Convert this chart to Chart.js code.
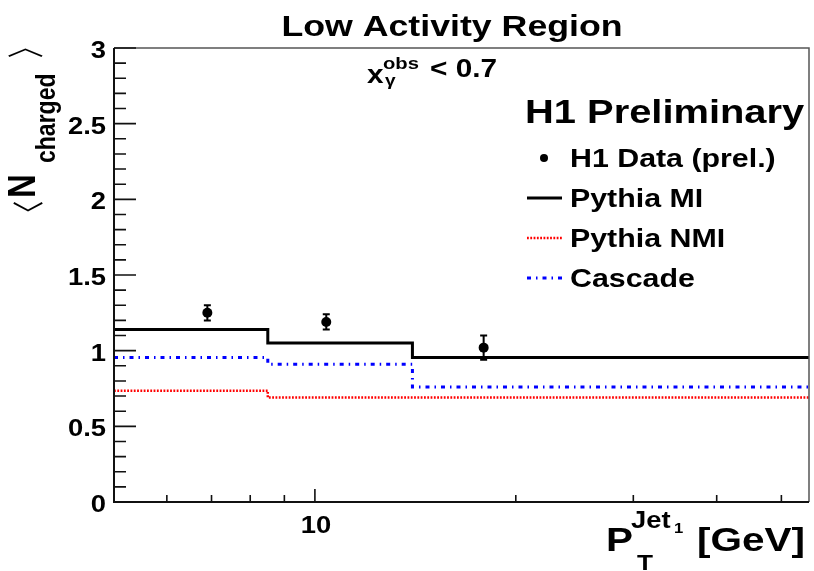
<!DOCTYPE html>
<html>
<head>
<meta charset="utf-8">
<script src="https://cdn.jsdelivr.net/npm/chart.js@4.4.1/dist/chart.umd.min.js"></script>
<style>
  html, body { margin: 0; padding: 0; background: #fff; }
  #wrap { width: 814px; height: 571px; }
</style>
</head>
<body>
<div id="wrap"><canvas id="c" width="814" height="571"></canvas></div>
<script>
// bins in pT (GeV), log x axis
const binEdges = [5, 8.5, 14, 55];
const dataPt = [6.9, 10.4, 17.9];
const dataVal = [1.25, 1.19, 1.02];
const dataErr = [0.05, 0.05, 0.08];
const pythiaMI = [1.14, 1.05, 0.955];
const pythiaNMI = [0.735, 0.69, 0.69];
const cascade = [0.955, 0.91, 0.76];

const yMajor = [0, 0.5, 1, 1.5, 2, 2.5, 3];
const yLabels = ['0', '0.5', '1', '1.5', '2', '2.5', '3'];
const yMinor = [0.1, 0.2, 0.3, 0.4, 0.6, 0.7, 0.8, 0.9, 1.1, 1.2, 1.3, 1.4, 1.6, 1.7, 1.8, 1.9, 2.1, 2.2, 2.3, 2.4, 2.6, 2.7, 2.8, 2.9];
const xMajor = [10];
const xLabels = ['10'];
const xMinor = [6, 7, 8, 9, 20, 30, 40, 50];

const SX = 1.19; // text in the picture is a bit wide
const FONT = '"Liberation Sans", Arial, Helvetica, sans-serif';

function stepPoints(vals) {
  return binEdges.map((e, i) => ({ x: e, y: vals[Math.min(i, vals.length - 1)] }));
}

function txt(ctx, s, x, y, size, align) {
  ctx.save();
  ctx.font = 'bold ' + size + 'px ' + FONT;
  ctx.fillStyle = '#000';
  ctx.textBaseline = 'alphabetic';
  ctx.translate(x, y);
  ctx.scale(SX, 1);
  const w = ctx.measureText(s).width;
  let dx = 0;
  if (align === 'center') dx = -w / 2;
  if (align === 'right') dx = -w;
  ctx.fillText(s, dx, 0);
  ctx.restore();
  return w * SX;
}

// rotated text, reading bottom to top; bx = baseline x, y0 = screen y where text starts
function rtxt(ctx, s, bx, y0, size) {
  ctx.save();
  ctx.font = 'bold ' + size + 'px ' + FONT;
  ctx.fillStyle = '#000';
  ctx.textBaseline = 'alphabetic';
  ctx.translate(bx, y0);
  ctx.rotate(-Math.PI / 2);
  ctx.scale(1, SX);
  ctx.fillText(s, 0, 0);
  ctx.restore();
}

// glyph squeezed into a box (for the wide angle brackets)
function boxGlyph(ctx, s, font, x0, y0, x1, y1) {
  ctx.save();
  ctx.font = font;
  ctx.fillStyle = '#000';
  ctx.textBaseline = 'alphabetic';
  ctx.textAlign = 'left';
  const m = ctx.measureText(s);
  const gw = m.actualBoundingBoxLeft + m.actualBoundingBoxRight;
  const gh = m.actualBoundingBoxAscent + m.actualBoundingBoxDescent;
  ctx.translate(x0, y0);
  ctx.scale((x1 - x0) / gw, (y1 - y0) / gh);
  ctx.fillText(s, m.actualBoundingBoxLeft, m.actualBoundingBoxAscent);
  ctx.restore();
}

const rootPlugin = {
  id: 'rootStyle',
  afterDatasetsDraw(chart) {
    const ctx = chart.ctx;
    const xs = chart.scales.x, ys = chart.scales.y;
    // error bars on the data points
    ctx.save();
    ctx.strokeStyle = '#000';
    ctx.lineWidth = 2;
    dataPt.forEach((pt, i) => {
      const px = xs.getPixelForValue(pt);
      const top = ys.getPixelForValue(dataVal[i] + dataErr[i]);
      const bot = ys.getPixelForValue(dataVal[i] - dataErr[i]);
      ctx.beginPath();
      ctx.moveTo(px, top); ctx.lineTo(px, bot);
      ctx.moveTo(px - 3.5, top); ctx.lineTo(px + 3.5, top);
      ctx.moveTo(px - 3.5, bot); ctx.lineTo(px + 3.5, bot);
      ctx.stroke();
    });
    ctx.restore();
  },
  afterDraw(chart) {
    const ctx = chart.ctx;
    const a = chart.chartArea;
    const xs = chart.scales.x, ys = chart.scales.y;

    // frame
    ctx.save();
    ctx.strokeStyle = '#555';
    ctx.lineWidth = 1.5;
    ctx.beginPath();
    ctx.moveTo(a.left, a.top); ctx.lineTo(a.right, a.top); ctx.lineTo(a.right, a.bottom);
    ctx.stroke();
    ctx.strokeStyle = '#111';
    ctx.lineWidth = 2;
    ctx.beginPath();
    ctx.moveTo(a.left, a.top); ctx.lineTo(a.left, a.bottom); ctx.lineTo(a.right, a.bottom);
    ctx.stroke();

    // ticks, inside the frame
    ctx.lineWidth = 1.6;
    ctx.beginPath();
    yMajor.forEach(v => { const p = ys.getPixelForValue(v); ctx.moveTo(a.left, p); ctx.lineTo(a.left + 22, p); });
    yMinor.forEach(v => { const p = ys.getPixelForValue(v); ctx.moveTo(a.left, p); ctx.lineTo(a.left + 12, p); });
    xMajor.forEach(v => { const p = xs.getPixelForValue(v); ctx.moveTo(p, a.bottom); ctx.lineTo(p, a.bottom - 13); });
    xMinor.forEach(v => { const p = xs.getPixelForValue(v); ctx.moveTo(p, a.bottom); ctx.lineTo(p, a.bottom - 7); });
    ctx.stroke();
    ctx.restore();

    // tick labels
    yMajor.forEach((v, i) => txt(ctx, yLabels[i], 106, ys.getPixelForValue(v) + 10, 23, 'right'));
    xMajor.forEach((v, i) => txt(ctx, xLabels[i], xs.getPixelForValue(v) + 1, 533, 23, 'center'));

    // title
    txt(ctx, 'Low Activity Region', 452, 36, 30, 'center');

    // x_gamma^obs < 0.7
    txt(ctx, 'x', 367, 83, 25);
    txt(ctx, 'obs', 383, 69, 17);
    txt(ctx, 'γ', 385, 86, 16);
    txt(ctx, '< 0.7', 430, 77, 25);

    // x axis title
    txt(ctx, 'P', 606, 551, 34);
    txt(ctx, 'T', 637, 570, 22);
    txt(ctx, 'Jet', 631, 528, 23);
    txt(ctx, '1', 674, 533, 14);
    txt(ctx, '[GeV]', 697, 551, 34);

    // y axis title  < N_charged >
    const bf = '40px "Noto Sans CJK JP", "DejaVu Sans", sans-serif';
    boxGlyph(ctx, '﹀', bf, 13, 202, 43, 212);
    rtxt(ctx, 'N', 35, 198, 33);
    rtxt(ctx, 'charged', 55, 163, 23);
    boxGlyph(ctx, '︿', bf, 8, 48, 43, 57);

    // legend
    txt(ctx, 'H1 Preliminary', 525, 123, 33.5);
    const rows = [167, 207, 247, 287];
    const names = ['H1 Data (prel.)', 'Pythia MI', 'Pythia NMI', 'Cascade'];
    chart.data.datasets.forEach((ds, i) => {
      const yc = rows[i] - 9;
      ctx.save();
      if (i === 0) {
        ctx.fillStyle = '#000';
        ctx.beginPath();
        ctx.arc(544, yc, 4, 0, Math.PI * 2);
        ctx.fill();
      } else {
        ctx.strokeStyle = ds.borderColor;
        ctx.lineWidth = ds.borderWidth;
        ctx.setLineDash(ds.borderDash || []);
        ctx.beginPath();
        ctx.moveTo(527, yc); ctx.lineTo(562, yc);
        ctx.stroke();
      }
      ctx.restore();
      txt(ctx, names[i], 570, rows[i], 25.5);
    });
  }
};

new Chart(document.getElementById('c'), {
  type: 'line',
  data: {
    datasets: [
      {
        label: 'H1 Data (prel.)',
        data: dataPt.map((x, i) => ({ x: x, y: dataVal[i] })),
        showLine: false,
        pointRadius: 5,
        pointBackgroundColor: '#000',
        pointBorderColor: '#000',
        pointBorderWidth: 0
      },
      {
        label: 'Pythia MI',
        data: stepPoints(pythiaMI),
        stepped: 'before',
        borderColor: '#000',
        borderWidth: 3,
        pointRadius: 0,
        fill: false
      },
      {
        label: 'Pythia NMI',
        data: stepPoints(pythiaNMI),
        stepped: 'before',
        borderColor: '#ff0000',
        borderWidth: 2.5,
        borderDash: [1.8, 1.5],
        pointRadius: 0,
        fill: false
      },
      {
        label: 'Cascade',
        data: stepPoints(cascade),
        stepped: 'before',
        borderColor: '#0000ff',
        borderWidth: 3,
        borderDash: [4, 5, 1.5, 5],
        pointRadius: 0,
        fill: false
      }
    ]
  },
  options: {
    responsive: false,
    animation: false,
    devicePixelRatio: 1,
    layout: { padding: { left: 0, right: 3.3, top: 48, bottom: 0 } },
    plugins: { legend: { display: false }, title: { display: false }, tooltip: { enabled: false } },
    scales: {
      x: {
        type: 'logarithmic',
        min: 5,
        max: 55,
        grid: { display: false },
        border: { display: false },
        ticks: { display: false },
        afterFit: s => { s.height = 69; }
      },
      y: {
        type: 'linear',
        min: 0,
        max: 3,
        grid: { display: false },
        border: { display: false },
        ticks: { display: false },
        afterFit: s => { s.width = 114; }
      }
    }
  },
  plugins: [rootPlugin]
});
</script>
</body>
</html>
